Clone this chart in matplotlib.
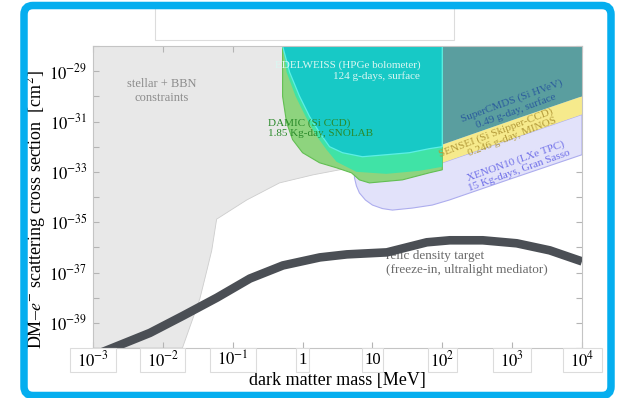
import numpy as np
import matplotlib.pyplot as plt
from matplotlib.patches import Rectangle, FancyBboxPatch
from matplotlib.transforms import IdentityTransform
from matplotlib.ticker import FixedLocator, FuncFormatter, NullLocator, NullFormatter

plt.rcParams['font.family'] = ['Liberation Serif', 'DejaVu Serif']
plt.rcParams['mathtext.fontset'] = 'stix'

# all values are log10(mass / MeV) and log10(sigma / cm^2)
stellar_m = [-3.0, 2.0, 2.0, 1.1, 0.53, 0.15, -0.33, -0.8, -1.23, -1.3, -1.37, -1.47, -1.72, -3.0]
stellar_s = [-28.0, -28.0, -32.52, -32.72, -32.92, -33.12, -33.44, -34.12, -34.88, -36.12, -36.92, -38.04, -40.0, -40.0]

xenon_m = [0.743, 0.771, 0.814, 0.9, 1.0, 1.143, 1.286, 1.571, 1.857, 2.1, 3.0, 4.0, 4.0, 3.0, 2.0, 0.743]
xenon_s = [-33.24, -33.56, -33.84, -34.12, -34.32, -34.46, -34.52, -34.44, -34.32, -34.12, -33.26, -32.32,
           -30.72, -31.68, -32.64, -32.9]

sensei_m = [2.0, 3.0, 4.0, 4.0, 3.0, 2.0]
sensei_s = [-31.92, -30.95, -30.0, -30.72, -31.68, -32.64]

cdms_m = [2.0, 2.0, 3.0, 4.0, 4.0]
cdms_s = [-28.0, -31.92, -30.95, -30.0, -28.0]

damic_m = [-0.286, -0.286, -0.229, -0.143, 0.0, 0.243, 0.486, 0.70, 0.814, 0.957, 1.429, 1.814, 2.0, 2.0]
damic_s = [-28.0, -30.0, -31.04, -31.72, -32.24, -32.64, -32.84, -33.04, -33.32, -33.44, -33.32, -33.04, -32.92, -28.0]

halo_m = [-0.286, -0.229, -0.1, 0.043, 0.186, 0.343, 0.486, 0.771, 1.2, 1.671, 2.0, 2.0]
halo_s = [-28.0, -29.04, -30.0, -30.8, -31.52, -32.12, -32.6, -33.0, -33.08, -32.96, -32.8, -28.0]

edel_m = [-0.286, -0.186, -0.043, 0.10, 0.243, 0.386, 0.571, 0.857, 1.2, 1.529, 1.814, 2.0, 2.0]
edel_s = [-28.0, -29.04, -30.0, -30.8, -31.44, -32.0, -32.24, -32.4, -32.32, -32.24, -32.08, -32.0, -28.0]

relic_m = [-3.0, -2.757, -2.185, -1.712, -1.226, -0.754, -0.282, 0.248, 0.634, 0.92, 1.206, 1.492, 1.778,
           2.107, 2.579, 3.066, 3.538, 4.0]
relic_s = [-40.31, -40.04, -39.4, -38.72, -38.0, -37.24, -36.72, -36.4, -36.28, -36.24, -36.2, -36.0, -35.8,
           -35.72, -35.72, -35.84, -36.12, -36.56]

x_decades = [-3, -2, -1, 0, 1, 2, 3, 4]
x_labels = ['$10^{-3}$', '$10^{-2}$', '$10^{-1}$', '1', '10', '$10^{2}$', '$10^{3}$', '$10^{4}$']
box_widths = [46, 45, 46, 13, 21, 29, 38, 39]
y_labelled = [-39, -37, -35, -33, -31, -29]
y_plain = [-40, -38, -36, -34, -32, -30, -28]


def lin(v):
    return 10.0 ** np.asarray(v)


fig = plt.figure(figsize=(6.23, 3.98), dpi=100)
ax = fig.add_axes([93 / 623, 1 - 348 / 398, 489 / 623, 302 / 398])
ax.set_xscale('log')
ax.set_yscale('log')
ax.set_xlim(1e-3, 1e4)
ax.set_ylim(1e-40, 1e-28)

ax.fill(lin(stellar_m), lin(stellar_s), fc='#e8e8e8', ec='#cdcdcd', lw=0.6, zorder=1)
ax.fill(lin(xenon_m), lin(xenon_s), fc='#e2e2fa', ec='#adadee', lw=0.8, zorder=2)
ax.fill(lin(sensei_m), lin(sensei_s), fc='#f6ea8c', ec='none', zorder=3)
ax.fill(lin(cdms_m), lin(cdms_s), fc='#5a9e9f', ec='none', zorder=3)
ax.fill(lin(damic_m), lin(damic_s), fc='#8ed47e', ec='#62bf52', lw=0.8, zorder=4)
ax.fill(lin(halo_m), lin(halo_s), fc='#40e3a6', ec='none', zorder=5)
ax.fill(lin(edel_m), lin(edel_s), fc='#17c9c6', ec='#5cefe6', lw=0.9, zorder=6)

ax.text(10 ** 1.2, 10 ** -36.62, 'relic density target\n(freeze-in, ultralight mediator)',
        fontsize=9.5, color='#6a6a6a', ha='left', va='center', zorder=7)
ax.plot(lin(relic_m), lin(relic_s), color='#4b4f55', lw=6.2, solid_capstyle='butt', zorder=8)

ax.text(10 ** -2.014, 10 ** -29.8, 'stellar + BBN\nconstraints', fontsize=9, color='#8c8c8c',
        ha='center', va='center', zorder=9)
ax.text(10 ** 1.686, 10 ** -28.98, 'EDELWEISS (HPGe bolometer)\n124 g-days, surface', fontsize=8,
        color='#daf7f2', ha='right', va='center', multialignment='right', zorder=9)
ax.text(10 ** -0.5, 10 ** -31.26, 'DAMIC (Si CCD)\n1.85 Kg-day, SNOLAB', fontsize=8, color='#2a8a2a',
        ha='left', va='center', zorder=9)
ax.text(10 ** 3.029, 10 ** -30.38, 'SuperCMDS (Si HVeV)\n0.49 g-day, surface', fontsize=8, color='#2b5c9c',
        ha='center', va='center', rotation=20.2, rotation_mode='anchor', zorder=9)
ax.text(10 ** 3.607, 10 ** -30.76, 'SENSEI (Si Skipper-CCD)\n0.246 g-day, MINOS', fontsize=8, color='#b39a3a',
        ha='right', va='center', multialignment='right', rotation=21, rotation_mode='anchor', zorder=5.5)
ax.text(10 ** 3.071, 10 ** -32.76, 'XENON10 (LXe TPC)\n15 Kg-days, Gran Sasso', fontsize=8, color='#6f6fe8',
        ha='center', va='center', rotation=19.7, rotation_mode='anchor', zorder=9)

# axes frame and ticks
for sp in ax.spines.values():
    sp.set_color('#c4c4c4')
    sp.set_linewidth(0.8)
    sp.set_zorder(10)
ax.xaxis.set_major_locator(FixedLocator(lin(x_decades)))
ax.xaxis.set_minor_locator(NullLocator())
ax.yaxis.set_major_locator(FixedLocator(lin(y_labelled)))
ax.yaxis.set_minor_locator(FixedLocator(lin(y_plain)))
ax.yaxis.set_major_formatter(FuncFormatter(lambda v, p: '$10^{%d}$' % round(np.log10(v))))
ax.yaxis.set_minor_formatter(NullFormatter())
ax.tick_params(which='both', direction='in', top=True, right=True, length=4, width=0.8,
               color='#b4b4b4', labelsize=12, pad=4)
ax.tick_params(axis='x', which='both', labelbottom=False)

ax.set_ylabel('DM–$e^{-}$ scattering cross section  [cm$^{2}$]', fontsize=13)
ax.yaxis.set_label_coords(-0.092, 0.46)
ax.set_xlabel('dark matter mass [MeV]', fontsize=13)
ax.xaxis.set_label_coords(0.5, -0.08)

# boxed mass labels under the axis
for d, lab, w in zip(x_decades, x_labels, box_widths):
    xd, yd = ax.transData.transform((10.0 ** d, 1e-40))
    fig.add_artist(Rectangle((xd - w / 2, yd - 24), w, 24, transform=IdentityTransform(),
                             fc='white', ec='#dcdcdc', lw=0.8))
    fig.text(xd, yd - 12, lab, transform=IdentityTransform(), ha='center', va='center', fontsize=12)

# empty caption box on top and the outer frame
fig.add_artist(Rectangle((155, 358), 299, 32, transform=IdentityTransform(),
                         fc='white', ec='#dcdcdc', lw=0.8))
fig.add_artist(FancyBboxPatch((24, 2.5), 587, 390, boxstyle='round,pad=0,rounding_size=9',
                              transform=IdentityTransform(), fc='none', ec='#05aeef', lw=5.4))

fig.savefig('out.png', dpi=100)
